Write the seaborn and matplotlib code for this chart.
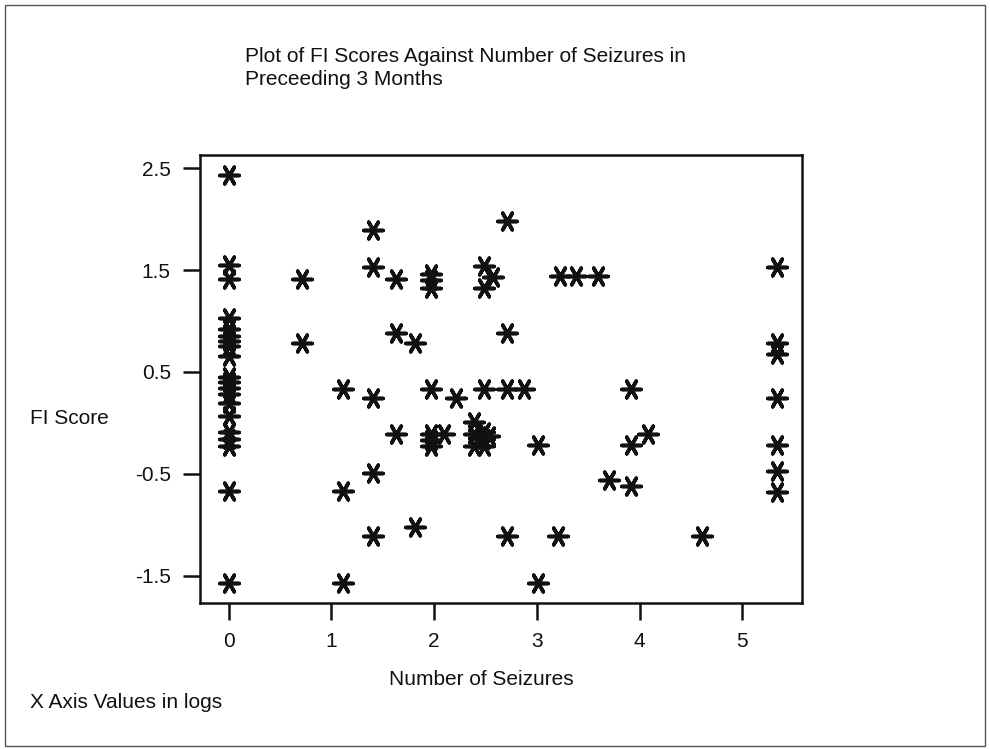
import matplotlib
matplotlib.use("Agg")
import matplotlib.pyplot as plt
import seaborn as sns
import pandas as pd
from matplotlib.patches import Rectangle

# ---- data ----
seizures_log = (
    [0.0] * 20
    + [0.71, 0.71]
    + [1.11, 1.11, 1.11]
    + [1.40, 1.40, 1.40, 1.40, 1.40]
    + [1.63, 1.63, 1.63]
    + [1.81, 1.81]
    + [1.97, 1.97, 1.97, 1.97, 1.97, 1.97, 1.97]
    + [2.10]
    + [2.21]
    + [2.39, 2.39, 2.39]
    + [2.48, 2.48, 2.48, 2.48, 2.48, 2.48]
    + [2.53]
    + [2.57]
    + [2.71, 2.71, 2.71, 2.71]
    + [2.87]
    + [3.01, 3.01]
    + [3.20]
    + [3.22, 3.38, 3.59]
    + [3.70]
    + [3.92, 3.92, 3.92]
    + [4.08]
    + [4.61]
    + [5.34] * 7
)
fi_score = (
    [2.43, 1.55, 1.41, 1.03, 0.92, 0.85, 0.80, 0.75, 0.66, 0.45,
     0.40, 0.34, 0.28, 0.19, 0.07, -0.09, -0.16, -0.23, -0.67, -1.57]
    + [1.41, 0.78]
    + [0.33, -0.67, -1.57]
    + [1.89, 1.53, 0.24, -0.49, -1.11]
    + [1.41, 0.88, -0.11]
    + [0.78, -1.02]
    + [1.46, 1.40, 1.32, 0.33, -0.11, -0.17, -0.23]
    + [-0.11]
    + [0.24]
    + [0.01, -0.11, -0.23]
    + [1.54, 1.32, 0.33, -0.09, -0.16, -0.23]
    + [-0.13]
    + [1.43]
    + [1.98, 0.88, 0.33, -1.11]
    + [0.33]
    + [-0.22, -1.57]
    + [-1.11]
    + [1.44, 1.44, 1.44]
    + [-0.56]
    + [0.33, -0.22, -0.62]
    + [-0.11]
    + [-1.11]
    + [1.53, 0.78, 0.68, 0.24, -0.22, -0.47, -0.68]
)
x_ticks = [0, 1, 2, 3, 4, 5]
y_ticks = [2.5, 1.5, 0.5, -0.5, -1.5]
y_tick_labels = ["2.5", "1.5", "0.5", "-0.5", "-1.5"]

df = pd.DataFrame({"Number of Seizures": seizures_log, "FI Score": fi_score})

sns.set_theme(style="white")
plt.rcParams["font.family"] = ["Liberation Sans", "DejaVu Sans"]

W, H = 990, 749
fig = plt.figure(figsize=(W / 100, H / 100), dpi=100)
fig.patch.set_facecolor("white")
ax = fig.add_axes([200 / W, 1 - 603 / H, (802 - 200) / W, (603 - 155) / H])

sns.scatterplot(data=df, x="Number of Seizures", y="FI Score", ax=ax,
                marker=(6, 2, 90), s=190, color="#111111",
                edgecolor="#111111", linewidth=2.6, legend=False)

ax.set_xlim(-0.28, 5.58)
ax.set_ylim(-1.77, 2.63)
ax.set_xticks(x_ticks)
ax.set_xticklabels([str(t) for t in x_ticks])
ax.set_yticks(y_ticks)
ax.set_yticklabels(y_tick_labels)

for sp in ax.spines.values():
    sp.set_linewidth(1.8)
    sp.set_color("#111111")
ax.tick_params(axis="both", which="major", direction="out", length=12,
               width=1.8, color="#111111", labelsize=15, labelcolor="#111111",
               bottom=True, left=True, top=False, right=False)
ax.tick_params(axis="x", pad=9)
ax.tick_params(axis="y", pad=9)

ax.set_xlabel("Number of Seizures", fontsize=15, color="#111111")
ax.xaxis.set_label_coords((481 - 200) / 602, (603 - 670) / 448)
ax.set_ylabel("FI Score", fontsize=15, color="#111111", rotation=0,
              ha="left", va="center")
ax.yaxis.set_label_coords((30 - 200) / 602, (603 - 418) / 448)

fig.text(245 / W, 1 - 85 / H,
         "Plot of FI Scores Against Number of Seizures in\nPreceeding 3 Months",
         fontsize=15, color="#111111", ha="left", va="baseline", linespacing=1.3)
fig.text(30 / W, 1 - 708 / H, "X Axis Values in logs", fontsize=15,
         color="#111111", ha="left", va="baseline")

fig.add_artist(Rectangle((5 / W, 3 / H), (985 - 5) / W, (744 - 3) / H,
                         transform=fig.transFigure, fill=False,
                         edgecolor="#555555", linewidth=1.0))

fig.savefig("out.png", dpi=100, facecolor="white")
